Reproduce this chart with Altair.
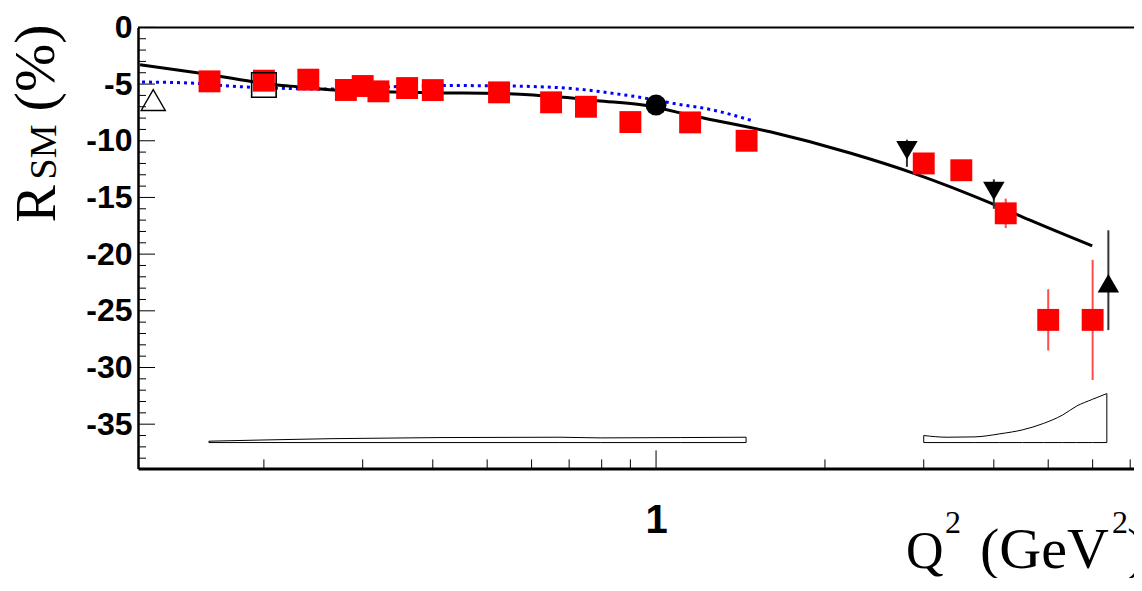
import altair as alt
import pandas as pd

# ---------------- data ----------------
# red squares (main data set)
sq_q2 = [0.16, 0.20, 0.24, 0.28, 0.30, 0.32, 0.36, 0.40, 0.525, 0.65, 0.75, 0.90,
         1.15, 1.45, 3.0, 3.5, 4.2, 5.0, 6.0]
sq_r = [-4.76, -4.70, -4.61, -5.52, -5.17, -5.64, -5.35, -5.53, -5.73, -6.61, -7.0,
        -8.35, -8.38, -10.0, -12.0, -12.6, -16.4, -25.8, -25.8]
sq_err = [0.3, 0.3, 0.3, 0.3, 0.3, 0.3, 0.3, 0.3, 0.3, 0.3, 0.3, 0.3,
          0.3, 0.3, 0.4, 0.4, 1.3, 2.7, 5.3]

# black down triangles
dn_q2 = [2.8, 4.0]
dn_r = [-11.1, -14.7]
dn_err = [1.2, 1.3]

# black up triangle
up_q2 = [6.4]
up_r = [-22.3]
up_err = [4.4]

# black circle, open square, open triangle
circ_q2 = [1.0]
circ_r = [-6.85]
osq_q2 = [0.2]
osq_r = [-5.08]
otri_q2 = [0.127]
otri_r = [-6.1]

# solid black curve
line_q2 = [0.1203, 0.152, 0.1912, 0.2111, 0.2291, 0.2667, 0.399, 0.523, 0.683, 0.785,
           0.948, 1.183, 1.597, 2.217, 2.872, 3.99, 4.64, 5.99]
line_r = [-3.29, -4.0, -4.79, -5.08, -5.23, -5.52, -5.76, -5.82, -6.17, -6.47,
          -6.85, -7.88, -9.21, -11.08, -12.85, -15.59, -17.0, -19.27]

# blue dotted curve
dot_q2 = [0.1213, 0.1477, 0.1814, 0.2227, 0.2623, 0.340, 0.4294, 0.549, 0.732, 0.838,
          0.925, 1.072, 1.264, 1.483]
dot_r = [-4.82, -4.91, -5.23, -5.39, -5.44, -5.23, -5.13, -5.17, -5.46, -5.82,
         -6.12, -6.70, -7.29, -8.23]

# systematic bands
band1_q2 = [0.1596, 0.1968, 0.2623, 0.412, 0.674, 0.795, 1.104, 1.447]
band1_top = [-36.5, -36.4, -36.28, -36.18, -36.15, -36.21, -36.18, -36.15]
band1_bot = [-36.62, -36.62, -36.62, -36.62, -36.62, -36.62, -36.62, -36.62]
band2_q2 = [3.0, 3.3, 3.7, 4.1, 4.5, 4.9, 5.3, 5.62, 6.0, 6.36]
band2_top = [-36.0, -36.15, -36.12, -35.85, -35.5, -34.94, -34.2, -33.4, -32.8, -32.3]
band2_bot = [-36.62, -36.62, -36.62, -36.62, -36.62, -36.62, -36.62, -36.62, -36.62, -36.62]

# axis ticks
x_minor = [0.2, 0.3, 0.4, 0.5, 0.6, 0.7, 0.8, 0.9, 2, 3, 4, 5, 6, 7]
x_major = [1]
y_labels = [-35, -30, -25, -20, -15, -10, -5, 0]
y_minor = [-38, -37, -36, -34, -33, -32, -31, -29, -28, -27, -26, -24, -23, -22, -21,
           -19, -18, -17, -16, -14, -13, -12, -11, -9, -8, -7, -6, -4, -3, -2, -1]

# ---------------- chart ----------------
W, H = 996, 441
XS = alt.Scale(type="log", domain=[0.1193, 7.11], nice=False)
YS = alt.Scale(domain=[-38.9, 0], nice=False, zero=False)
XA = alt.Axis(values=x_major, labelExpr="'' + datum.value", ticks=False, tickSize=0, grid=False,
              domainColor="black", domainWidth=3, labelFont="Liberation Sans",
              labelFontWeight="bold", labelFontSize=40, labelColor="black",
              labelPadding=32, title=None)
YA = alt.Axis(values=y_labels, labelExpr="'' + datum.value", ticks=False, tickSize=0, grid=False,
              domainColor="black", domainWidth=2.5, labelFont="Liberation Sans",
              labelFontWeight="bold", labelFontSize=32, labelColor="black",
              labelPadding=6, title=None)


def X(f="q"):
    return alt.X(f"{f}:Q", scale=XS, axis=XA)


def Y(f="r"):
    return alt.Y(f"{f}:Q", scale=YS, axis=YA)


one = pd.DataFrame({"a": [0]})

sq = pd.DataFrame({"q": sq_q2, "r": sq_r, "lo": [r - e for r, e in zip(sq_r, sq_err)],
                   "hi": [r + e for r, e in zip(sq_r, sq_err)]})
dn = pd.DataFrame({"q": dn_q2, "r": dn_r, "lo": [r - e for r, e in zip(dn_r, dn_err)],
                   "hi": [r + e for r, e in zip(dn_r, dn_err)]})
up = pd.DataFrame({"q": up_q2, "r": up_r, "lo": [r - e for r, e in zip(up_r, up_err)],
                   "hi": [r + e for r, e in zip(up_r, up_err)]})

b1 = pd.DataFrame({"q": band1_q2, "t": band1_top, "b": band1_bot})
b2 = pd.DataFrame({"q": band2_q2, "t": band2_top, "b": band2_bot})

band1 = alt.Chart(b1).mark_area(fill="white", stroke="black", strokeWidth=1).encode(
    x=X(), y=Y("t"), y2="b:Q")
band2 = alt.Chart(b2).mark_area(fill="white", stroke="black", strokeWidth=1,
                                interpolate="monotone").encode(x=X(), y=Y("t"), y2="b:Q")

dotted = alt.Chart(pd.DataFrame({"q": dot_q2, "r": dot_r})).mark_line(
    color="#0000ff", strokeWidth=3, strokeDash=[3, 4], interpolate="monotone").encode(x=X(), y=Y())
solid = alt.Chart(pd.DataFrame({"q": line_q2, "r": line_r})).mark_line(
    color="black", strokeWidth=3, interpolate="monotone").encode(x=X(), y=Y())

sq_err_l = alt.Chart(sq).mark_rule(color="#ff4d4d", strokeWidth=2).encode(x=X(), y=Y("lo"), y2="hi:Q")
sq_pts = alt.Chart(sq).mark_point(shape="square", filled=True, size=480, color="#ff0000",
                                  opacity=1).encode(x=X(), y=Y())

dn_err_l = alt.Chart(dn).mark_rule(color="#333333", strokeWidth=2).encode(x=X(), y=Y("lo"), y2="hi:Q")
dn_pts = alt.Chart(dn).mark_point(shape="triangle-down", filled=True, size=460, color="black",
                                  opacity=1, yOffset=-3).encode(x=X(), y=Y())
up_err_l = alt.Chart(up).mark_rule(color="#333333", strokeWidth=2).encode(x=X(), y=Y("lo"), y2="hi:Q")
up_pts = alt.Chart(up).mark_point(shape="triangle-up", filled=True, size=460, color="black",
                                  opacity=1, yOffset=3).encode(x=X(), y=Y())

circ = alt.Chart(pd.DataFrame({"q": circ_q2, "r": circ_r})).mark_point(
    shape="circle", filled=True, size=440, color="black", opacity=1).encode(x=X(), y=Y())
osq = alt.Chart(pd.DataFrame({"q": osq_q2, "r": osq_r})).mark_point(
    shape="square", filled=False, size=600, color="black", strokeWidth=1.6, opacity=1).encode(x=X(), y=Y())
otri = alt.Chart(pd.DataFrame({"q": otri_q2, "r": otri_r})).mark_point(
    shape="triangle-up", filled=False, size=580, color="black", strokeWidth=1.4, opacity=1,
    yOffset=3.5).encode(x=X(), y=Y())

# inward ticks
xt_min = alt.Chart(pd.DataFrame({"q": x_minor})).mark_rule(color="black", strokeWidth=1).encode(
    x=X(), y=alt.value(H), y2=alt.value(H - 9))
xt_maj = alt.Chart(pd.DataFrame({"q": x_major})).mark_rule(color="black", strokeWidth=1).encode(
    x=X(), y=alt.value(H), y2=alt.value(H - 18))
yt_min = alt.Chart(pd.DataFrame({"r": y_minor})).mark_rule(color="black", strokeWidth=1).encode(
    y=Y(), x=alt.value(0), x2=alt.value(8))
yt_maj = alt.Chart(pd.DataFrame({"r": y_labels})).mark_rule(color="black", strokeWidth=1).encode(
    y=Y(), x=alt.value(0), x2=alt.value(17))
top_line = alt.Chart(pd.DataFrame({"r": [0]})).mark_rule(color="black", strokeWidth=2).encode(
    y=Y(), x=alt.value(0), x2=alt.value(W))


def txt(s, x, y, size, angle=0):
    kw = dict(text=s, font="Liberation Serif", fontSize=size, align="left",
              baseline="alphabetic", color="black")
    if angle:
        kw["angle"] = angle
    return alt.Chart(one).mark_text(**kw).encode(x=alt.value(x), y=alt.value(y))


titles = [
    txt("R", -83, 195, 56, 270),
    txt("SM", -82, 152, 38, 270),
    txt("(%)", -84, 84, 58, 270),
    txt("Q", 768, 541, 52),
    txt("2", 807, 506, 32),
    txt("(GeV", 842, 541, 58),
    txt("2", 974, 506, 32),
    txt(")", 989, 541, 58),
]

chart = alt.layer(
    band1, band2, dotted, solid, sq_err_l, sq_pts, dn_err_l, dn_pts, up_err_l, up_pts,
    circ, osq, otri, xt_min, xt_maj, yt_min, yt_maj, top_line, *titles
).properties(
    width=W, height=H,
    autosize=alt.AutoSizeParams(type="none"),
    padding={"left": 130, "top": 19.4, "right": 0, "bottom": 109.6},
    background="white",
).configure_view(stroke=None)

chart.save("out.html", embed_options={"renderer": "svg", "actions": False})
